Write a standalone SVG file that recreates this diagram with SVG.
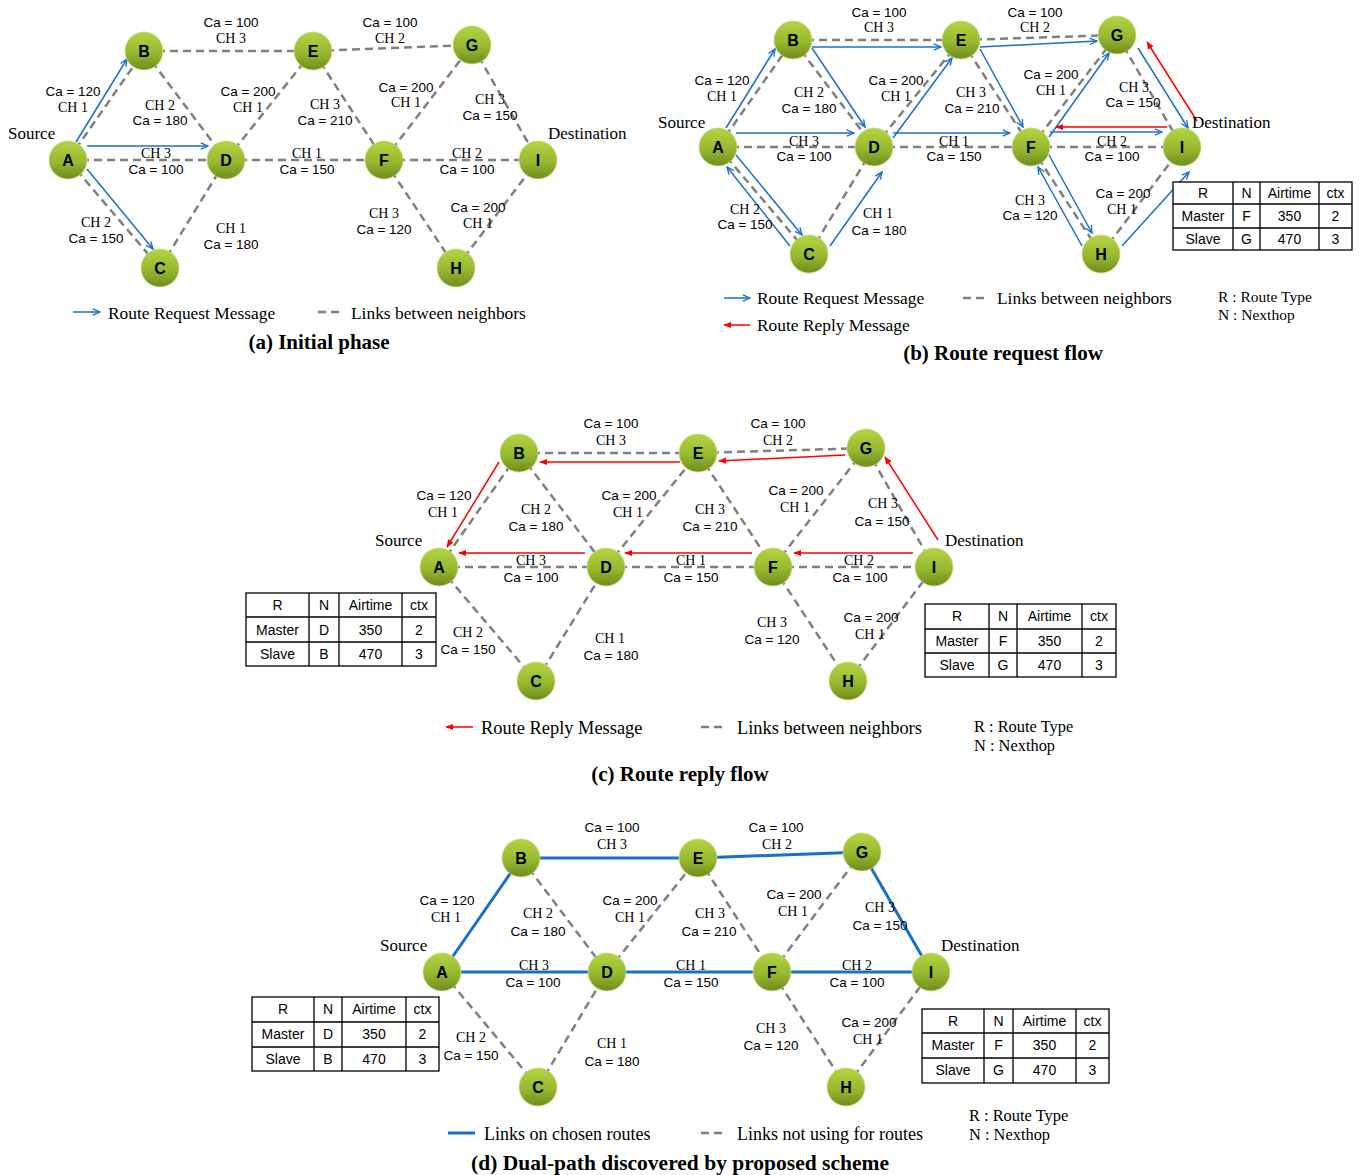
<svg xmlns="http://www.w3.org/2000/svg" width="1362" height="1175" viewBox="0 0 1362 1175">
<style>
.ca{font-family:"Liberation Sans",Arial,sans-serif;font-size:13.5px;text-anchor:middle;fill:#000}
.ch{font-family:"Liberation Serif","Times New Roman",serif;font-size:14px;text-anchor:middle;fill:#000}
.nl{font-family:"Liberation Sans",Arial,sans-serif;font-size:16px;font-weight:bold;text-anchor:middle;fill:#000}
.sd{font-family:"Liberation Serif","Times New Roman",serif;font-size:17px;fill:#000}
.lg{font-family:"Liberation Serif","Times New Roman",serif;font-size:17.4px;fill:#000}
.lg2{font-family:"Liberation Serif","Times New Roman",serif;font-size:18.4px;fill:#000}
.lg3{font-family:"Liberation Serif","Times New Roman",serif;font-size:18px;fill:#000}
.rn{font-family:"Liberation Serif","Times New Roman",serif;font-size:15.5px;fill:#000}
.rn2{font-family:"Liberation Serif","Times New Roman",serif;font-size:16.4px;fill:#000}
.tt{font-family:"Liberation Serif","Times New Roman",serif;font-size:21px;font-weight:bold;text-anchor:middle;fill:#000}
.tb{font-family:"Liberation Sans",Arial,sans-serif;font-size:14px;text-anchor:middle;fill:#000}
.dl{stroke:#7f7f7f;stroke-width:2.5;stroke-dasharray:8 5;fill:none}
.bl{stroke:#1a6fc8;stroke-width:1.5;fill:none;marker-end:url(#ab)}
.rl{stroke:#ff0000;stroke-width:1.5;fill:none;marker-end:url(#ar)}
.sl{stroke:#1a6fc8;stroke-width:3;fill:none}
.node circle{fill:url(#ng);stroke:#c9dc8a;stroke-width:0.8}
.grid{stroke:#000;stroke-width:1.3;fill:#fff}
.gl{stroke:#000;stroke-width:1.3}
</style>
<defs>
<linearGradient id="ng" x1="0" y1="0" x2="0" y2="1">
<stop offset="0" stop-color="#b3d441"/>
<stop offset="0.55" stop-color="#98b930"/>
<stop offset="1" stop-color="#6d8c1c"/>
</linearGradient>
<marker id="ab" viewBox="0 0 10 10" refX="9" refY="5" markerWidth="9" markerHeight="9" markerUnits="userSpaceOnUse" orient="auto"><path d="M1,1.5 L9,5 L1,8.5" fill="none" stroke="#1a6fc8" stroke-width="1.5"/></marker>
<marker id="ar" viewBox="0 0 10 10" refX="9" refY="5" markerWidth="8" markerHeight="8" markerUnits="userSpaceOnUse" orient="auto"><path d="M0,1 L10,5 L0,9 z" fill="#ff0000"/></marker>
</defs>
<rect width="1362" height="1175" fill="#fff"/>

<!-- ========== Panel (a) ========== -->
<g id="panel-a">
<g id="a-connectors">
<line class="dl" x1="68" y1="160" x2="144" y2="51"/>
<line class="dl" x1="144" y1="51" x2="313" y2="51"/>
<line class="dl" x1="313" y1="51" x2="472" y2="45"/>
<line class="dl" x1="68" y1="160" x2="226" y2="160"/>
<line class="dl" x1="226" y1="160" x2="384" y2="160"/>
<line class="dl" x1="384" y1="160" x2="538" y2="160"/>
<line class="dl" x1="68" y1="160" x2="160" y2="268"/>
<line class="dl" x1="160" y1="268" x2="226" y2="160"/>
<line class="dl" x1="144" y1="51" x2="226" y2="160"/>
<line class="dl" x1="226" y1="160" x2="313" y2="51"/>
<line class="dl" x1="313" y1="51" x2="384" y2="160"/>
<line class="dl" x1="384" y1="160" x2="472" y2="45"/>
<line class="dl" x1="472" y1="45" x2="538" y2="160"/>
<line class="dl" x1="384" y1="160" x2="456" y2="268"/>
<line class="dl" x1="456" y1="268" x2="538" y2="160"/>
<line class="bl" x1="76" y1="142" x2="127" y2="59"/>
<line class="bl" x1="87" y1="146" x2="208" y2="146"/>
<line class="bl" x1="87" y1="169" x2="153" y2="249"/>
</g>
<g id="a-A" class="node"><circle cx="68" cy="160" r="19"/><text class="nl" x="68" y="166">A</text></g>
<g id="a-B" class="node"><circle cx="144" cy="51" r="19"/><text class="nl" x="144" y="57">B</text></g>
<g id="a-C" class="node"><circle cx="160" cy="268" r="19"/><text class="nl" x="160" y="274">C</text></g>
<g id="a-D" class="node"><circle cx="226" cy="160" r="19"/><text class="nl" x="226" y="166">D</text></g>
<g id="a-E" class="node"><circle cx="313" cy="51" r="19"/><text class="nl" x="313" y="57">E</text></g>
<g id="a-F" class="node"><circle cx="384" cy="160" r="19"/><text class="nl" x="384" y="166">F</text></g>
<g id="a-G" class="node"><circle cx="472" cy="45" r="19"/><text class="nl" x="472" y="51">G</text></g>
<g id="a-H" class="node"><circle cx="456" cy="268" r="19"/><text class="nl" x="456" y="274">H</text></g>
<g id="a-I" class="node"><circle cx="538" cy="160" r="19"/><text class="nl" x="538" y="166">I</text></g>
<g id="a-labels">
<text class="ca" x="231" y="27">Ca = 100</text><text class="ch" x="231" y="43">CH 3</text>
<text class="ca" x="390" y="27">Ca = 100</text><text class="ch" x="390" y="43">CH 2</text>
<text class="ca" x="73" y="96">Ca = 120</text><text class="ch" x="73" y="112">CH 1</text>
<text class="ch" x="160" y="110">CH 2</text><text class="ca" x="160" y="125">Ca = 180</text>
<text class="ca" x="248" y="96">Ca = 200</text><text class="ch" x="248" y="112">CH 1</text>
<text class="ch" x="325" y="109">CH 3</text><text class="ca" x="325" y="125">Ca = 210</text>
<text class="ca" x="406" y="92">Ca = 200</text><text class="ch" x="406" y="107">CH 1</text>
<text class="ch" x="490" y="104">CH 3</text><text class="ca" x="490" y="120">Ca = 150</text>
<text class="ch" x="156" y="158">CH 3</text><text class="ca" x="156" y="174">Ca = 100</text>
<text class="ch" x="307" y="158">CH 1</text><text class="ca" x="307" y="174">Ca = 150</text>
<text class="ch" x="467" y="158">CH 2</text><text class="ca" x="467" y="174">Ca = 100</text>
<text class="ch" x="96" y="227">CH 2</text><text class="ca" x="96" y="243">Ca = 150</text>
<text class="ch" x="231" y="233">CH 1</text><text class="ca" x="231" y="249">Ca = 180</text>
<text class="ch" x="384" y="218">CH 3</text><text class="ca" x="384" y="234">Ca = 120</text>
<text class="ca" x="478" y="212">Ca = 200</text><text class="ch" x="478" y="228">CH 1</text>
<text class="sd" x="8" y="139">Source</text>
<text class="sd" x="548" y="139">Destination</text>
</g>
<g id="a-legend">
<line class="bl" x1="73" y1="312" x2="100" y2="312"/>
<text class="lg" x="108" y="319">Route Request Message</text>
<line class="dl" x1="318" y1="312" x2="342" y2="312"/>
<text class="lg" x="351" y="319">Links between neighbors</text>
<text class="tt" x="319" y="349">(a) Initial phase</text>
</g>
</g>

<!-- ========== Panel (b) ========== -->
<g id="panel-b">
<g id="b-connectors">
<line class="dl" x1="718" y1="147" x2="793" y2="40"/>
<line class="dl" x1="793" y1="40" x2="961" y2="40"/>
<line class="dl" x1="961" y1="40" x2="1117" y2="35"/>
<line class="dl" x1="718" y1="147" x2="874" y2="147"/>
<line class="dl" x1="874" y1="147" x2="1031" y2="147"/>
<line class="dl" x1="1031" y1="147" x2="1182" y2="147"/>
<line class="dl" x1="718" y1="147" x2="809" y2="254"/>
<line class="dl" x1="809" y1="254" x2="874" y2="147"/>
<line class="dl" x1="793" y1="40" x2="874" y2="147"/>
<line class="dl" x1="874" y1="147" x2="961" y2="40"/>
<line class="dl" x1="961" y1="40" x2="1031" y2="147"/>
<line class="dl" x1="1031" y1="147" x2="1117" y2="35"/>
<line class="dl" x1="1117" y1="35" x2="1182" y2="147"/>
<line class="dl" x1="1031" y1="147" x2="1101" y2="254"/>
<line class="dl" x1="1101" y1="254" x2="1182" y2="147"/>
<line class="bl" x1="726" y1="128" x2="775" y2="49"/>
<line class="bl" x1="812" y1="47" x2="941" y2="47"/>
<line class="bl" x1="812" y1="48" x2="865" y2="127"/>
<line class="bl" x1="736" y1="133" x2="854" y2="133"/>
<line class="bl" x1="893" y1="138" x2="952" y2="58"/>
<line class="bl" x1="893" y1="133" x2="1010" y2="133"/>
<line class="bl" x1="736" y1="155" x2="802" y2="235"/>
<line class="bl" x1="790" y1="246" x2="727" y2="167"/>
<line class="bl" x1="830" y1="246" x2="882" y2="172"/>
<line class="bl" x1="980" y1="47" x2="1097" y2="41"/>
<line class="bl" x1="980" y1="49" x2="1023" y2="127"/>
<line class="bl" x1="1049" y1="137" x2="1109" y2="53"/>
<line class="bl" x1="1050" y1="132" x2="1162" y2="132"/>
<line class="bl" x1="1138" y1="48" x2="1188" y2="128"/>
<line class="bl" x1="1049" y1="155" x2="1092" y2="233"/>
<line class="bl" x1="1082" y1="246" x2="1038" y2="167"/>
<line class="bl" x1="1122" y1="246" x2="1189" y2="172"/>
<line class="rl" x1="1167" y1="127" x2="1056" y2="127"/>
<line class="rl" x1="1197" y1="121" x2="1147" y2="42"/>
</g>
<g id="b-A" class="node"><circle cx="718" cy="147" r="19"/><text class="nl" x="718" y="153">A</text></g>
<g id="b-B" class="node"><circle cx="793" cy="40" r="19"/><text class="nl" x="793" y="46">B</text></g>
<g id="b-C" class="node"><circle cx="809" cy="254" r="19"/><text class="nl" x="809" y="260">C</text></g>
<g id="b-D" class="node"><circle cx="874" cy="147" r="19"/><text class="nl" x="874" y="153">D</text></g>
<g id="b-E" class="node"><circle cx="961" cy="40" r="19"/><text class="nl" x="961" y="46">E</text></g>
<g id="b-F" class="node"><circle cx="1031" cy="147" r="19"/><text class="nl" x="1031" y="153">F</text></g>
<g id="b-G" class="node"><circle cx="1117" cy="35" r="19"/><text class="nl" x="1117" y="41">G</text></g>
<g id="b-H" class="node"><circle cx="1101" cy="254" r="19"/><text class="nl" x="1101" y="260">H</text></g>
<g id="b-I" class="node"><circle cx="1182" cy="147" r="19"/><text class="nl" x="1182" y="153">I</text></g>
<g id="b-labels">
<text class="ca" x="879" y="17">Ca = 100</text><text class="ch" x="879" y="32">CH 3</text>
<text class="ca" x="1035" y="17">Ca = 100</text><text class="ch" x="1035" y="32">CH 2</text>
<text class="ca" x="722" y="85">Ca = 120</text><text class="ch" x="722" y="101">CH 1</text>
<text class="ch" x="809" y="97">CH 2</text><text class="ca" x="809" y="113">Ca = 180</text>
<text class="ca" x="896" y="85">Ca = 200</text><text class="ch" x="896" y="101">CH 1</text>
<text class="ch" x="971" y="97">CH 3</text><text class="ca" x="972" y="113">Ca = 210</text>
<text class="ca" x="1051" y="79">Ca = 200</text><text class="ch" x="1051" y="95">CH 1</text>
<text class="ch" x="1134" y="92">CH 3</text><text class="ca" x="1133" y="107">Ca = 150</text>
<text class="ch" x="804" y="146">CH 3</text><text class="ca" x="804" y="161">Ca = 100</text>
<text class="ch" x="954" y="146">CH 1</text><text class="ca" x="954" y="161">Ca = 150</text>
<text class="ch" x="1112" y="146">CH 2</text><text class="ca" x="1112" y="161">Ca = 100</text>
<text class="ch" x="745" y="214">CH 2</text><text class="ca" x="745" y="229">Ca = 150</text>
<text class="ch" x="878" y="218">CH 1</text><text class="ca" x="879" y="235">Ca = 180</text>
<text class="ch" x="1030" y="205">CH 3</text><text class="ca" x="1030" y="220">Ca = 120</text>
<text class="ca" x="1123" y="198">Ca = 200</text><text class="ch" x="1122" y="214">CH 1</text>
<text class="sd" x="658" y="128">Source</text>
<text class="sd" x="1192" y="128">Destination</text>
</g>
<g id="b-table">
<rect class="grid" x="1173" y="182" width="179" height="68"/>
<line class="gl" x1="1173" y1="204" x2="1352" y2="204"/>
<line class="gl" x1="1173" y1="228" x2="1352" y2="228"/>
<line class="gl" x1="1233" y1="182" x2="1233" y2="250"/>
<line class="gl" x1="1260" y1="182" x2="1260" y2="250"/>
<line class="gl" x1="1319" y1="182" x2="1319" y2="250"/>
<text class="tb" x="1203" y="198">R</text><text class="tb" x="1246.5" y="198">N</text><text class="tb" x="1289.5" y="198">Airtime</text><text class="tb" x="1335.5" y="198">ctx</text>
<text class="tb" x="1203" y="221">Master</text><text class="tb" x="1246.5" y="221">F</text><text class="tb" x="1289.5" y="221">350</text><text class="tb" x="1335.5" y="221">2</text>
<text class="tb" x="1203" y="244">Slave</text><text class="tb" x="1246.5" y="244">G</text><text class="tb" x="1289.5" y="244">470</text><text class="tb" x="1335.5" y="244">3</text>
</g>
<g id="b-legend">
<line class="bl" x1="724" y1="298" x2="750" y2="298"/>
<text class="lg" x="757" y="304">Route Request Message</text>
<line class="dl" x1="963" y1="298" x2="988" y2="298"/>
<text class="lg" x="997" y="304">Links between neighbors</text>
<line class="rl" x1="750" y1="325" x2="724" y2="325"/>
<text class="lg" x="757" y="331">Route Reply Message</text>
<text class="rn" x="1218" y="302">R : Route Type</text>
<text class="rn" x="1218" y="320">N : Nexthop</text>
<text class="tt" x="1003" y="360">(b) Route request flow</text>
</g>
</g>

<!-- ========== Panel (c) ========== -->
<g id="panel-c">
<g id="c-connectors">
<line class="dl" x1="439" y1="567" x2="519" y2="453"/>
<line class="dl" x1="519" y1="453" x2="698" y2="453"/>
<line class="dl" x1="698" y1="453" x2="866" y2="448"/>
<line class="dl" x1="439" y1="567" x2="606" y2="567"/>
<line class="dl" x1="606" y1="567" x2="773" y2="567"/>
<line class="dl" x1="773" y1="567" x2="934" y2="567"/>
<line class="dl" x1="439" y1="567" x2="536" y2="681"/>
<line class="dl" x1="536" y1="681" x2="606" y2="567"/>
<line class="dl" x1="519" y1="453" x2="606" y2="567"/>
<line class="dl" x1="606" y1="567" x2="698" y2="453"/>
<line class="dl" x1="698" y1="453" x2="773" y2="567"/>
<line class="dl" x1="773" y1="567" x2="866" y2="448"/>
<line class="dl" x1="866" y1="448" x2="934" y2="567"/>
<line class="dl" x1="773" y1="567" x2="848" y2="681"/>
<line class="dl" x1="848" y1="681" x2="934" y2="567"/>
<line class="rl" x1="680" y1="462" x2="540" y2="462"/>
<line class="rl" x1="499" y1="462" x2="447" y2="547"/>
<line class="rl" x1="585" y1="553" x2="459" y2="553"/>
<line class="rl" x1="752" y1="553" x2="625" y2="553"/>
<line class="rl" x1="845" y1="455" x2="719" y2="461"/>
<line class="rl" x1="913" y1="553" x2="794" y2="553"/>
<line class="rl" x1="938" y1="540" x2="885" y2="457"/>
</g>
<g id="c-A" class="node"><circle cx="439" cy="567" r="19"/><text class="nl" x="439" y="573">A</text></g>
<g id="c-B" class="node"><circle cx="519" cy="453" r="19"/><text class="nl" x="519" y="459">B</text></g>
<g id="c-C" class="node"><circle cx="536" cy="681" r="19"/><text class="nl" x="536" y="687">C</text></g>
<g id="c-D" class="node"><circle cx="606" cy="567" r="19"/><text class="nl" x="606" y="573">D</text></g>
<g id="c-E" class="node"><circle cx="698" cy="453" r="19"/><text class="nl" x="698" y="459">E</text></g>
<g id="c-F" class="node"><circle cx="773" cy="567" r="19"/><text class="nl" x="773" y="573">F</text></g>
<g id="c-G" class="node"><circle cx="866" cy="448" r="19"/><text class="nl" x="866" y="454">G</text></g>
<g id="c-H" class="node"><circle cx="848" cy="681" r="19"/><text class="nl" x="848" y="687">H</text></g>
<g id="c-I" class="node"><circle cx="934" cy="567" r="19"/><text class="nl" x="934" y="573">I</text></g>
<g id="c-labels">
<text class="ca" x="611" y="428">Ca = 100</text><text class="ch" x="611" y="445">CH 3</text>
<text class="ca" x="778" y="428">Ca = 100</text><text class="ch" x="778" y="445">CH 2</text>
<text class="ca" x="444" y="500">Ca = 120</text><text class="ch" x="443" y="517">CH 1</text>
<text class="ch" x="536" y="514">CH 2</text><text class="ca" x="536" y="531">Ca = 180</text>
<text class="ca" x="629" y="500">Ca = 200</text><text class="ch" x="628" y="517">CH 1</text>
<text class="ch" x="710" y="514">CH 3</text><text class="ca" x="710" y="531">Ca = 210</text>
<text class="ca" x="796" y="495">Ca = 200</text><text class="ch" x="795" y="512">CH 1</text>
<text class="ch" x="883" y="508">CH 3</text><text class="ca" x="882" y="526">Ca = 150</text>
<text class="ch" x="531" y="565">CH 3</text><text class="ca" x="531" y="582">Ca = 100</text>
<text class="ch" x="691" y="565">CH 1</text><text class="ca" x="691" y="582">Ca = 150</text>
<text class="ch" x="859" y="565">CH 2</text><text class="ca" x="860" y="582">Ca = 100</text>
<text class="ch" x="468" y="637">CH 2</text><text class="ca" x="468" y="654">Ca = 150</text>
<text class="ch" x="610" y="643">CH 1</text><text class="ca" x="611" y="660">Ca = 180</text>
<text class="ch" x="772" y="627">CH 3</text><text class="ca" x="772" y="644">Ca = 120</text>
<text class="ca" x="871" y="622">Ca = 200</text><text class="ch" x="870" y="639">CH 1</text>
<text class="sd" x="375" y="546">Source</text>
<text class="sd" x="945" y="546">Destination</text>
</g>
<g id="c-table-left">
<rect class="grid" x="246" y="593" width="190" height="73"/>
<line class="gl" x1="246" y1="617" x2="436" y2="617"/>
<line class="gl" x1="246" y1="642" x2="436" y2="642"/>
<line class="gl" x1="309" y1="593" x2="309" y2="666"/>
<line class="gl" x1="339" y1="593" x2="339" y2="666"/>
<line class="gl" x1="402" y1="593" x2="402" y2="666"/>
<text class="tb" x="277.5" y="610">R</text><text class="tb" x="324" y="610">N</text><text class="tb" x="370.5" y="610">Airtime</text><text class="tb" x="419" y="610">ctx</text>
<text class="tb" x="277.5" y="635">Master</text><text class="tb" x="324" y="635">D</text><text class="tb" x="370.5" y="635">350</text><text class="tb" x="419" y="635">2</text>
<text class="tb" x="277.5" y="659">Slave</text><text class="tb" x="324" y="659">B</text><text class="tb" x="370.5" y="659">470</text><text class="tb" x="419" y="659">3</text>
</g>
<g id="c-table-right">
<rect class="grid" x="925" y="604" width="191" height="73"/>
<line class="gl" x1="925" y1="629" x2="1116" y2="629"/>
<line class="gl" x1="925" y1="653" x2="1116" y2="653"/>
<line class="gl" x1="989" y1="604" x2="989" y2="677"/>
<line class="gl" x1="1017" y1="604" x2="1017" y2="677"/>
<line class="gl" x1="1082" y1="604" x2="1082" y2="677"/>
<text class="tb" x="957" y="621">R</text><text class="tb" x="1003" y="621">N</text><text class="tb" x="1049.5" y="621">Airtime</text><text class="tb" x="1099" y="621">ctx</text>
<text class="tb" x="957" y="646">Master</text><text class="tb" x="1003" y="646">F</text><text class="tb" x="1049.5" y="646">350</text><text class="tb" x="1099" y="646">2</text>
<text class="tb" x="957" y="670">Slave</text><text class="tb" x="1003" y="670">G</text><text class="tb" x="1049.5" y="670">470</text><text class="tb" x="1099" y="670">3</text>
</g>
<g id="c-legend">
<line class="rl" x1="473" y1="727" x2="446" y2="727"/>
<text class="lg2" x="481" y="734">Route Reply Message</text>
<line class="dl" x1="701" y1="727" x2="726" y2="727"/>
<text class="lg2" x="737" y="734">Links between neighbors</text>
<text class="rn2" x="974" y="732">R : Route Type</text>
<text class="rn2" x="974" y="751">N : Nexthop</text>
<text class="tt" x="680" y="781">(c) Route reply flow</text>
</g>
</g>

<!-- ========== Panel (d) ========== -->
<g id="panel-d">
<g id="d-connectors">
<line class="sl" x1="442" y1="972" x2="521" y2="858"/>
<line class="sl" x1="521" y1="858" x2="698" y2="858"/>
<line class="sl" x1="698" y1="858" x2="862" y2="852"/>
<line class="sl" x1="862" y1="852" x2="931" y2="972"/>
<line class="sl" x1="442" y1="972" x2="607" y2="972"/>
<line class="sl" x1="607" y1="972" x2="772" y2="972"/>
<line class="sl" x1="772" y1="972" x2="931" y2="972"/>
<line class="dl" x1="442" y1="972" x2="538" y2="1087"/>
<line class="dl" x1="538" y1="1087" x2="607" y2="972"/>
<line class="dl" x1="521" y1="858" x2="607" y2="972"/>
<line class="dl" x1="607" y1="972" x2="698" y2="858"/>
<line class="dl" x1="698" y1="858" x2="772" y2="972"/>
<line class="dl" x1="772" y1="972" x2="862" y2="852"/>
<line class="dl" x1="772" y1="972" x2="846" y2="1087"/>
<line class="dl" x1="846" y1="1087" x2="931" y2="972"/>
</g>
<g id="d-A" class="node"><circle cx="442" cy="972" r="19"/><text class="nl" x="442" y="978">A</text></g>
<g id="d-B" class="node"><circle cx="521" cy="858" r="19"/><text class="nl" x="521" y="864">B</text></g>
<g id="d-C" class="node"><circle cx="538" cy="1087" r="19"/><text class="nl" x="538" y="1093">C</text></g>
<g id="d-D" class="node"><circle cx="607" cy="972" r="19"/><text class="nl" x="607" y="978">D</text></g>
<g id="d-E" class="node"><circle cx="698" cy="858" r="19"/><text class="nl" x="698" y="864">E</text></g>
<g id="d-F" class="node"><circle cx="772" cy="972" r="19"/><text class="nl" x="772" y="978">F</text></g>
<g id="d-G" class="node"><circle cx="862" cy="852" r="19"/><text class="nl" x="862" y="858">G</text></g>
<g id="d-H" class="node"><circle cx="846" cy="1087" r="19"/><text class="nl" x="846" y="1093">H</text></g>
<g id="d-I" class="node"><circle cx="931" cy="972" r="19"/><text class="nl" x="931" y="978">I</text></g>
<g id="d-labels">
<text class="ca" x="612" y="832">Ca = 100</text><text class="ch" x="612" y="849">CH 3</text>
<text class="ca" x="776" y="832">Ca = 100</text><text class="ch" x="777" y="849">CH 2</text>
<text class="ca" x="447" y="905">Ca = 120</text><text class="ch" x="446" y="922">CH 1</text>
<text class="ch" x="538" y="918">CH 2</text><text class="ca" x="538" y="936">Ca = 180</text>
<text class="ca" x="630" y="905">Ca = 200</text><text class="ch" x="630" y="922">CH 1</text>
<text class="ch" x="710" y="918">CH 3</text><text class="ca" x="709" y="936">Ca = 210</text>
<text class="ca" x="794" y="899">Ca = 200</text><text class="ch" x="793" y="916">CH 1</text>
<text class="ch" x="880" y="912">CH 3</text><text class="ca" x="880" y="930">Ca = 150</text>
<text class="ch" x="534" y="970">CH 3</text><text class="ca" x="533" y="987">Ca = 100</text>
<text class="ch" x="691" y="970">CH 1</text><text class="ca" x="691" y="987">Ca = 150</text>
<text class="ch" x="857" y="970">CH 2</text><text class="ca" x="857" y="987">Ca = 100</text>
<text class="ch" x="471" y="1042">CH 2</text><text class="ca" x="471" y="1060">Ca = 150</text>
<text class="ch" x="612" y="1048">CH 1</text><text class="ca" x="612" y="1066">Ca = 180</text>
<text class="ch" x="771" y="1033">CH 3</text><text class="ca" x="771" y="1050">Ca = 120</text>
<text class="ca" x="869" y="1027">Ca = 200</text><text class="ch" x="868" y="1044">CH 1</text>
<text class="sd" x="380" y="951">Source</text>
<text class="sd" x="941" y="951">Destination</text>
</g>
<g id="d-table-left">
<rect class="grid" x="252" y="997" width="187" height="74"/>
<line class="gl" x1="252" y1="1022" x2="439" y2="1022"/>
<line class="gl" x1="252" y1="1047" x2="439" y2="1047"/>
<line class="gl" x1="314" y1="997" x2="314" y2="1071"/>
<line class="gl" x1="342" y1="997" x2="342" y2="1071"/>
<line class="gl" x1="406" y1="997" x2="406" y2="1071"/>
<text class="tb" x="283" y="1014">R</text><text class="tb" x="328" y="1014">N</text><text class="tb" x="374" y="1014">Airtime</text><text class="tb" x="422.5" y="1014">ctx</text>
<text class="tb" x="283" y="1039">Master</text><text class="tb" x="328" y="1039">D</text><text class="tb" x="374" y="1039">350</text><text class="tb" x="422.5" y="1039">2</text>
<text class="tb" x="283" y="1064">Slave</text><text class="tb" x="328" y="1064">B</text><text class="tb" x="374" y="1064">470</text><text class="tb" x="422.5" y="1064">3</text>
</g>
<g id="d-table-right">
<rect class="grid" x="922" y="1009" width="187" height="74"/>
<line class="gl" x1="922" y1="1033" x2="1109" y2="1033"/>
<line class="gl" x1="922" y1="1058" x2="1109" y2="1058"/>
<line class="gl" x1="984" y1="1009" x2="984" y2="1083"/>
<line class="gl" x1="1013" y1="1009" x2="1013" y2="1083"/>
<line class="gl" x1="1076" y1="1009" x2="1076" y2="1083"/>
<text class="tb" x="953" y="1026">R</text><text class="tb" x="998.5" y="1026">N</text><text class="tb" x="1044.5" y="1026">Airtime</text><text class="tb" x="1092.5" y="1026">ctx</text>
<text class="tb" x="953" y="1050">Master</text><text class="tb" x="998.5" y="1050">F</text><text class="tb" x="1044.5" y="1050">350</text><text class="tb" x="1092.5" y="1050">2</text>
<text class="tb" x="953" y="1075">Slave</text><text class="tb" x="998.5" y="1075">G</text><text class="tb" x="1044.5" y="1075">470</text><text class="tb" x="1092.5" y="1075">3</text>
</g>
<g id="d-legend">
<line class="sl" x1="448" y1="1133" x2="475" y2="1133"/>
<text class="lg3" x="484" y="1140">Links on chosen routes</text>
<line class="dl" x1="701" y1="1133" x2="726" y2="1133"/>
<text class="lg3" x="737" y="1140">Links not using for routes</text>
<text class="rn2" x="969" y="1121">R : Route Type</text>
<text class="rn2" x="969" y="1140">N : Nexthop</text>
<text class="tt" x="680" y="1170" style="font-size:21.5px">(d) Dual-path discovered by proposed scheme</text>
</g>
</g>
</svg>
